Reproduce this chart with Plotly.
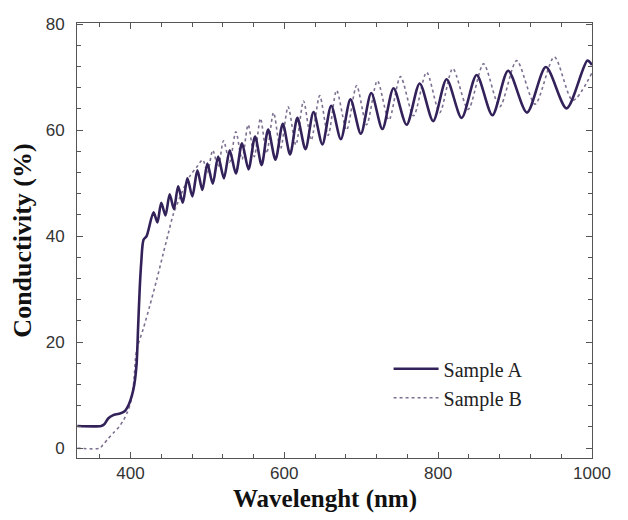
import plotly.graph_objects as go

# Sample A (solid) - wavelength (nm), conductivity (%)
a_wl = [331, 362, 366, 371, 377, 385, 392, 398, 402, 405, 408, 410, 412, 414, 417, 421,
        430, 435, 440, 445.5, 451, 456.5, 462, 468, 474, 480.5, 487, 493.5, 500, 507,
        514, 521.5, 529, 537, 545, 553.5, 562, 570.5, 579, 588.5, 598, 607.5, 617, 627.5,
        638, 649.5, 661, 673.5, 686, 699.5, 713, 727.5, 742, 759, 776, 793.5, 811, 830.5,
        850, 870.5, 891, 915.5, 940, 967, 994, 1000]
a_val = [4.2, 4.2, 4.5, 5.6, 6.2, 6.5, 6.9, 8.3, 10.0, 12.0, 16.0, 23.0, 30.0, 35.0, 39.3, 40.0,
         44.5, 42.6, 46.3, 43.9, 47.9, 45.1, 49.4, 46.3, 50.9, 47.5, 52.4, 48.7, 53.7, 49.9,
         55.0, 50.9, 56.2, 51.8, 57.5, 52.6, 58.8, 53.4, 60.1, 54.4, 61.2, 55.4, 62.3, 56.4,
         63.4, 57.3, 64.6, 58.3, 65.8, 59.3, 67.0, 60.2, 67.9, 61.0, 68.8, 61.7, 69.6, 62.3,
         70.4, 62.8, 71.2, 63.3, 71.9, 64.1, 73.1, 72.3]

# Sample B (dotted)
b_wl = [331, 360, 364, 371, 378, 385, 391, 396, 400, 404, 408, 416.6, 425, 434, 442.6, 449,
        455.6, 462, 470, 478, 486, 494, 500, 507, 514, 521, 529, 537, 545, 553, 561, 569,
        577, 586, 595, 605, 615, 625, 635, 646, 657, 668, 681, 694, 707, 721, 736, 751,
        768, 785, 802, 819, 839, 859, 880, 902, 926, 951, 975, 1000]
b_val = [0.0, 0.0, 0.6, 1.8, 2.9, 4.0, 5.3, 6.8, 8.5, 12.0, 18.5, 22.5, 26.8, 31.7, 36.7, 40.4,
         44.1, 46.5, 49.3, 51.5, 53.0, 54.4, 52.0, 56.2, 53.0, 58.0, 54.0, 59.7, 54.5, 61.0, 55.0, 62.2,
         55.6, 63.3, 56.4, 64.4, 57.2, 65.5, 58.1, 66.5, 59.0, 67.5, 60.0, 68.4, 61.0, 69.3, 61.9, 70.1,
         62.7, 70.9, 63.3, 71.6, 63.9, 72.5, 64.4, 73.1, 64.9, 73.8, 65.6, 70.8]

x_ticks = [400, 600, 800, 1000]
y_ticks = [0, 20, 40, 60, 80]

fig = go.Figure()
fig.add_trace(go.Scatter(x=b_wl, y=b_val, mode="lines", name="Sample B",
                         line=dict(color="#7d7090", width=1.6, dash="dot", shape="spline", smoothing=0.8)))
fig.add_trace(go.Scatter(x=a_wl, y=a_val, mode="lines", name="Sample A",
                         line=dict(color="#33225a", width=2.6, shape="spline", smoothing=0.8)))

axis_common = dict(showline=True, linecolor="#555555", linewidth=1, mirror="allticks",
                   ticks="inside", ticklen=6, tickcolor="#555555", showgrid=False, zeroline=False,
                   ticklabeloverflow="allow",
                   tickfont=dict(family="Liberation Sans", size=17, color="#333333"))

fig.update_xaxes(range=[330.5, 1000], tickvals=x_ticks,
                 minor=dict(dtick=40, tick0=0, ticks="inside", ticklen=4, tickcolor="#555555"),
                 **axis_common)
fig.update_yaxes(range=[-1.85, 80.2], tickvals=y_ticks, ticklabelstandoff=8,
                 minor=dict(dtick=4, tick0=0, ticks="inside", ticklen=4, tickcolor="#555555"),
                 title=dict(text="Conductivity (%)", standoff=6,
                            font=dict(family="Liberation Serif", size=26, color="#111111", weight="bold")),
                 **axis_common)

fig.add_annotation(text="Wavelenght (nm)", xref="paper", yref="paper", x=0.482, y=-0.094,
                   xanchor="center", yanchor="middle", showarrow=False, borderpad=0,
                   font=dict(family="Liberation Serif", size=25, color="#111111", weight="bold"))

fig.update_layout(
    width=620, height=512,
    margin=dict(l=69, r=36, t=7, b=62),
    plot_bgcolor="white", paper_bgcolor="white",
    legend=dict(x=0.605, y=0.25, xanchor="left", yanchor="top", traceorder="reversed",
                itemwidth=45, bgcolor="rgba(255,255,255,0)",
                font=dict(family="Liberation Serif", size=20, color="#222222")),
)

fig.write_html("out.html")
